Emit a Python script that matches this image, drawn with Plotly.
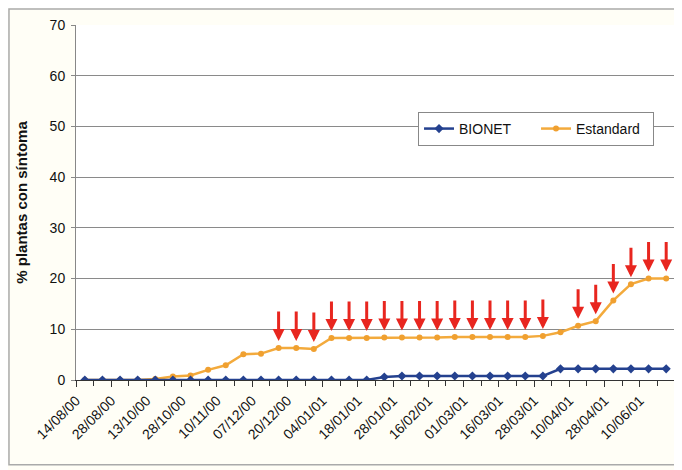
import plotly.graph_objects as go

# ---- data ----
tick_labels = ["14/08/00", "28/08/00", "13/10/00", "28/10/00", "10/11/00", "07/12/00",
               "20/12/00", "04/01/01", "18/01/01", "28/01/01", "16/02/01", "01/03/01",
               "16/03/01", "28/03/01", "10/04/01", "28/04/01", "10/06/01"]
sample_idx = list(range(34))
bionet = [0, 0, 0, 0, 0, 0, 0, 0, 0, 0, 0, 0, 0, 0, 0, 0, 0,
          0.6, 0.8, 0.8, 0.8, 0.8, 0.8, 0.8, 0.8, 0.8, 0.8,
          2.2, 2.2, 2.2, 2.2, 2.2, 2.2, 2.2]
estandard = [0, 0, 0, 0, 0.2, 0.7, 0.9, 2.0, 2.9, 5.1, 5.2, 6.3, 6.3, 6.1,
             8.3, 8.3, 8.3, 8.4, 8.4, 8.4, 8.4, 8.5, 8.5, 8.5, 8.5, 8.5, 8.7,
             9.4, 10.7, 11.6, 15.7, 18.9, 20.0, 20.0]
arrow_idx = list(range(11, 27)) + list(range(28, 34))

# labels sit at the category boundary left of every second sample (Excel style)
tick_vals = [i - 0.5 for i in sample_idx[::2]]

fig = go.Figure()
fig.add_trace(go.Scatter(
    x=sample_idx, y=estandard, name="Estandard", mode="lines+markers",
    line=dict(color="#f3aa3c", width=2.5),
    marker=dict(symbol="circle", size=6, color="#f0a030")))
fig.add_trace(go.Scatter(
    x=sample_idx, y=bionet, name="BIONET", mode="lines+markers",
    line=dict(color="#24418f", width=2.5),
    marker=dict(symbol="diamond", size=7, color="#24418f")))

for i in arrow_idx:
    fig.add_annotation(x=sample_idx[i], y=estandard[i], ax=0, ay=-38,
                       showarrow=True, arrowhead=2, arrowsize=0.8, arrowwidth=3,
                       arrowcolor="#e8261f", standoff=7, text="")

fig.update_layout(
    width=674, height=462,
    margin=dict(l=68, r=7, t=17, b=90, autoexpand=False),
    paper_bgcolor="#fffef6", plot_bgcolor="white",
    font=dict(family="Liberation Sans, Arial, sans-serif", size=14, color="#111"),
    showlegend=True,
    legend=dict(orientation="h", x=0.571, y=0.755, xanchor="left", yanchor="top",
                traceorder="reversed",
                bgcolor="white", bordercolor="#888", borderwidth=1,
                font=dict(size=14), itemwidth=30, tracegroupgap=0,
                entrywidth=72, entrywidthmode="pixels"),
)
fig.update_xaxes(
    range=[-0.5, 33.5], tickmode="array", tickvals=tick_vals, ticktext=tick_labels,
    tickangle=-45, ticks="outside", ticklen=6, tickcolor="#333",
    showgrid=False, zeroline=False,
    showline=True, linecolor="#333", linewidth=1, tickfont=dict(size=14),
    minor=dict(tickvals=[v + 0.5 for v in sample_idx], ticks="outside", ticklen=5,
               tickcolor="#333", showgrid=False),
    mirror=False)
fig.update_yaxes(
    range=[0, 70], dtick=10, showgrid=True, gridcolor="#8a8a8a", gridwidth=1,
    zeroline=False, showline=True, linecolor="#888", linewidth=1,
    ticks="outside", ticklen=4, tickcolor="#888", tickfont=dict(size=14),
    ticklabelstandoff=3,
    title=dict(text="<b>% plantas con síntoma</b>", font=dict(size=15), standoff=18))

fig.add_shape(type="line", xref="paper", yref="paper", x0=1, x1=1, y0=0, y1=1,
              line=dict(color="#888", width=1))
fig.add_shape(type="rect", xref="paper", yref="paper", x0=-0.1119, x1=1.0033, y0=-0.239, y1=1.045,
              line=dict(color="#aaa", width=1.5))

fig.write_html("out.html")
